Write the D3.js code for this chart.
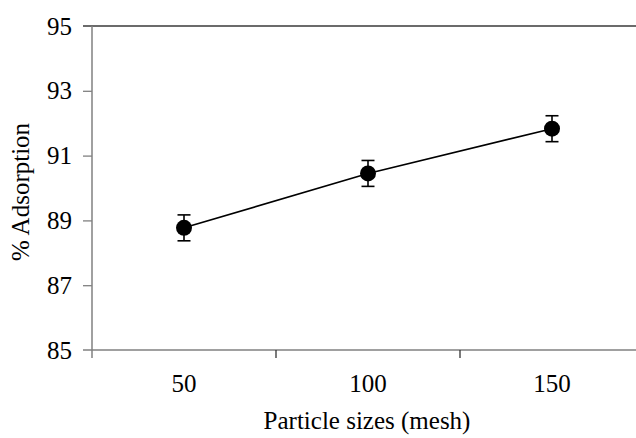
<!DOCTYPE html>
<html lang="en">
<head>
  <meta charset="UTF-8">
  <title>% Adsorption by particle size</title>
  <style>
    body { margin: 0; background: #fff; }
  </style>
</head>
<body>
  <svg id="svg" width="636" height="438"></svg>
  <script src="https://d3js.org/d3.v7.min.js"></script>
  <script>
    // data
    const sizes = ['50', '100', '150']
    const adsorption = [88.77, 90.45, 91.83]
    const errors = [0.4, 0.4, 0.4]
    const yTicks = [85, 87, 89, 91, 93, 95]

    const data = sizes.map((s, i) => ({ size: s, value: adsorption[i], err: errors[i] }))

    const plotLeft = 92, plotTop = 26, plotBottom = 350, band = 184
    const serif = 'Liberation Serif'

    const svg = d3.select('#svg')

    // x scale (categories)
    const xscale = d3.scaleBand()
      .domain(sizes)
      .range([plotLeft, plotLeft + band * sizes.length])

    // y scale
    const yscale = d3.scaleLinear()
      .domain([85, 95])
      .range([plotBottom, plotTop])

    // top border
    svg.append('line')
      .attr('x1', 83).attr('x2', 636)
      .attr('y1', plotTop).attr('y2', plotTop)
      .attr('stroke', '#3a3a3a').attr('stroke-width', 1.3)

    // left axis
    const leftAxis = d3.axisLeft(yscale)
      .tickValues(yTicks)
      .tickSize(9)
      .tickPadding(11)
      .tickFormat(d3.format('d'))

    const gy = svg.append('g')
      .attr('transform', `translate(${plotLeft}, 0)`)
      .call(leftAxis)
      .attr('font-family', serif)
      .attr('font-size', 25)
    gy.select('.domain').remove()
    gy.selectAll('.tick line').attr('stroke', '#808080').attr('stroke-width', 1.3)
    gy.selectAll('.tick text').attr('fill', '#000')
    gy.select('.tick:last-of-type line').remove()
    gy.select('.tick:first-of-type line').remove()
    svg.append('line')
      .attr('x1', plotLeft).attr('x2', plotLeft)
      .attr('y1', plotTop).attr('y2', plotBottom + 8)
      .attr('stroke', '#808080').attr('stroke-width', 1.5)

    // bottom axis line
    svg.append('line')
      .attr('x1', 83).attr('x2', 636)
      .attr('y1', plotBottom).attr('y2', plotBottom)
      .attr('stroke', '#808080').attr('stroke-width', 1.5)

    // ticks between categories
    svg.append('g')
      .selectAll('line')
      .data(sizes.slice(1))
      .enter()
      .append('line')
      .attr('x1', d => xscale(d)).attr('x2', d => xscale(d))
      .attr('y1', plotBottom).attr('y2', plotBottom + 8)
      .attr('stroke', '#333').attr('stroke-width', 1.3)

    // category labels
    svg.append('g')
      .selectAll('text')
      .data(sizes)
      .enter()
      .append('text')
      .attr('x', d => xscale(d) + xscale.bandwidth() / 2)
      .attr('y', 392)
      .attr('text-anchor', 'middle')
      .attr('font-family', serif)
      .attr('font-size', 25)
      .text(d => d)

    const cx = d => xscale(d.size) + xscale.bandwidth() / 2

    // line
    const line = d3.line()
      .x(cx)
      .y(d => yscale(d.value))

    svg.append('path')
      .datum(data)
      .attr('d', line)
      .attr('fill', 'none')
      .attr('stroke', '#000')
      .attr('stroke-width', 1.6)

    // error bars
    const eb = svg.append('g')
      .selectAll('g')
      .data(data)
      .enter()
      .append('g')
      .attr('stroke', '#000')
      .attr('stroke-width', 1.6)

    eb.append('line')
      .attr('x1', cx).attr('x2', cx)
      .attr('y1', d => yscale(d.value + d.err))
      .attr('y2', d => yscale(d.value - d.err))
    eb.append('line')
      .attr('x1', d => cx(d) - 6.5).attr('x2', d => cx(d) + 6.5)
      .attr('y1', d => yscale(d.value + d.err)).attr('y2', d => yscale(d.value + d.err))
    eb.append('line')
      .attr('x1', d => cx(d) - 6.5).attr('x2', d => cx(d) + 6.5)
      .attr('y1', d => yscale(d.value - d.err)).attr('y2', d => yscale(d.value - d.err))

    // markers
    svg.append('g')
      .selectAll('circle')
      .data(data)
      .enter()
      .append('circle')
      .attr('cx', cx)
      .attr('cy', d => yscale(d.value))
      .attr('r', 8)
      .attr('fill', '#000')

    // axis titles
    svg.append('text')
      .attr('x', 367)
      .attr('y', 429)
      .attr('text-anchor', 'middle')
      .attr('font-family', serif)
      .attr('font-size', 25)
      .text('Particle sizes (mesh)')

    svg.append('text')
      .attr('transform', 'translate(29, 192) rotate(-90)')
      .attr('text-anchor', 'middle')
      .attr('font-family', serif)
      .attr('font-size', 25)
      .text('% Adsorption')
  </script>
</body>
</html>
